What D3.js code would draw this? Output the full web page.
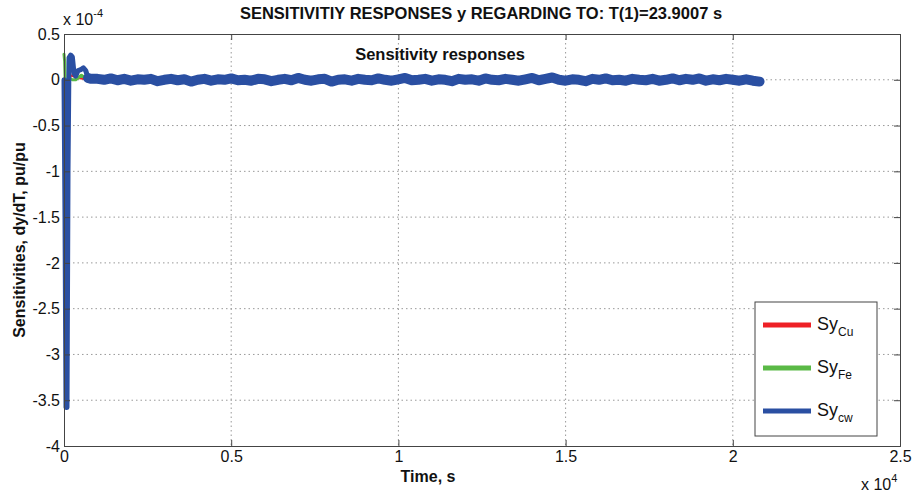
<!DOCTYPE html>
<html lang="en">
<head>
  <meta charset="UTF-8">
  <title>Sensitivity responses</title>
  <script src="https://d3js.org/d3.v7.min.js"></script>
  <style>
    body { margin: 0; background: white; font-family: "Liberation Sans", Arial, sans-serif; }
    svg { display: block; }
    .grid line { stroke: #999; stroke-dasharray: 1.5 3; }
    .tick text { font-size: 16px; fill: #111; }
  </style>
</head>
<body>
  <svg width="912" height="495"></svg>

  <script>
    // values in units of 1e-4 pu/pu, times in s
    const xTicks = [0, 5000, 10000, 15000, 20000, 25000];
    const xTickLabels = ["0", "0.5", "1", "1.5", "2", "2.5"];
    const yTicks = [0.5, 0, -0.5, -1, -1.5, -2, -2.5, -3, -3.5, -4];
    const yTickLabels = ["0.5", "0", "-0.5", "-1", "-1.5", "-2", "-2.5", "-3", "-3.5", "-4"];

    // start transient (blue, Sy_cw)
    const cwStartT = [0, 30, 60, 90, 120, 150, 200, 250, 300, 350, 420, 500, 580, 650, 720, 800];
    const cwStartV = [0, -1.5, -3.58, -3.58, -1.0, 0.24, 0.27, 0.25, 0.07, 0.04, 0.1, 0.11, 0.13, 0.1, 0.02, 0.01];
    // noisy part, one value every 200 s starting at 1000 s
    const cwNoise = [
      0.01, 0.0, 0.015, -0.005, 0.01, -0.01, 0.005, 0.0, 0.01, -0.015,
      0.0, 0.01, -0.005, 0.005, -0.02, 0.0, 0.01, -0.01, 0.005, 0.0,
      0.015, -0.005, 0.0, -0.01, 0.01, 0.005, -0.015, 0.0, 0.01, -0.005,
      0.02, 0.0, -0.01, 0.005, 0.01, -0.02, 0.0, 0.005, -0.01, 0.01,
      0.0, -0.005, 0.015, 0.0, -0.01, 0.005, 0.02, -0.005, 0.0, 0.01,
      -0.01, 0.005, 0.0, -0.015, 0.01, 0.0, 0.005, -0.01, 0.015, 0.0,
      -0.005, 0.01, 0.0, -0.01, 0.005, 0.02, -0.005, 0.01, 0.025, 0.0,
      -0.01, 0.005, 0.0, -0.015, 0.01, 0.0, 0.015, -0.005, 0.0, -0.01,
      0.01, 0.0, -0.005, 0.01, -0.01, 0.0, 0.015, -0.005, 0.01, 0.0,
      0.015, -0.01, 0.005, -0.005, 0.01, 0.0, -0.01, 0.005, -0.01, -0.02
    ];

    // green (Sy_Fe) and red (Sy_Cu), mostly hidden under blue
    const feT = [0, 20, 40, 60, 100, 150, 250, 350, 450, 520, 600, 700, 800, 5000, 10000, 15000, 20700];
    const feV = [0.28, 0.2, -0.1, -0.05, 0.0, 0.02, 0.0, 0.0, 0.03, 0.05, 0.03, 0.0, 0.0, -0.01, 0.0, -0.01, 0.0];
    const cuT = [0, 50, 100, 200, 400, 800, 5000, 10000, 15000, 20700];
    const cuV = [0, -0.3, -0.1, 0.05, 0.02, 0.0, 0.01, -0.01, 0.0, 0.0];

    const cwT = cwStartT.concat(cwNoise.map((d, i) => 1000 + i * 200));
    const cwV = cwStartV.concat(cwNoise);

    const series = [
      { name: "Cu", color: "#ee2026", t: cuT, v: cuV },
      { name: "Fe", color: "#5ab946", t: feT, v: feV },
      { name: "cw", color: "#2a4fa2", t: cwT, v: cwV }
    ];

    const svg = d3.select("svg");
    const margin = { left: 64, top: 34, right: 12, bottom: 49 };
    const W = 912 - margin.left - margin.right;
    const H = 495 - margin.top - margin.bottom;

    const x = d3.scaleLinear().domain([0, 25000]).range([0, W]);
    const y = d3.scaleLinear().domain([-4, 0.5]).range([H, 0]);

    const g = svg.append("g").attr("transform", `translate(${margin.left},${margin.top})`);

    // grid
    g.append("g").attr("class", "grid")
      .selectAll("line").data(xTicks.slice(1, -1)).join("line")
      .attr("x1", d => x(d)).attr("x2", d => x(d)).attr("y1", 0).attr("y2", H);
    g.append("g").attr("class", "grid")
      .selectAll("line").data(yTicks.slice(1, -1)).join("line")
      .attr("x1", 0).attr("x2", W).attr("y1", d => y(d)).attr("y2", d => y(d));

    // lines
    const line = d3.line().x(d => x(d[0])).y(d => y(d[1]));
    const pts = s => s.t.map((t, i) => [t, s.v[i]]);
    const draw = (data, color, w) => g.append("path").datum(data)
      .attr("fill", "none").attr("stroke", color).attr("stroke-width", w)
      .attr("stroke-linejoin", "round").attr("stroke-linecap", "round")
      .attr("d", line);

    draw(pts(series[0]), series[0].color, 2);
    draw(pts(series[1]), series[1].color, 3);
    const cw = pts(series[2]);
    const split = cwStartT.length - 2;
    draw(cw.slice(split), series[2].color, 10);      // steady band
    draw(cw.slice(0, split + 1), series[2].color, 5); // start transient

    // axes (matlab box with inward ticks)
    const axColor = "#444";
    const axB = g.append("g").attr("transform", `translate(0,${H})`)
      .call(d3.axisBottom(x).tickValues(xTicks).tickSize(-6).tickPadding(5)
        .tickFormat((d, i) => xTickLabels[i]));
    const axL = g.append("g")
      .call(d3.axisLeft(y).tickValues(yTicks).tickSize(-6).tickPadding(4)
        .tickFormat((d, i) => yTickLabels[i]));
    const axT = g.append("g")
      .call(d3.axisTop(x).tickValues(xTicks).tickSize(-6).tickFormat(""));
    const axR = g.append("g").attr("transform", `translate(${W},0)`)
      .call(d3.axisRight(y).tickValues(yTicks).tickSize(-6).tickFormat(""));
    [axB, axL, axT, axR].forEach(a => {
      a.select(".domain").attr("stroke", axColor);
      a.selectAll(".tick line").attr("stroke", axColor);
    });

    // exponent labels
    const e1 = svg.append("text").attr("x", 63).attr("y", 25)
      .attr("font-size", 16).attr("fill", "#111");
    e1.append("tspan").text("x 10");
    e1.append("tspan").attr("dy", -8).attr("font-size", 11).text("-4");
    const e2 = svg.append("text").attr("x", 861).attr("y", 490)
      .attr("font-size", 16).attr("fill", "#111");
    e2.append("tspan").text("x 10");
    e2.append("tspan").attr("dy", -8).attr("font-size", 11).text("4");

    // titles
    svg.append("text").attr("x", 481).attr("y", 19).attr("text-anchor", "middle")
      .attr("font-size", 16.5).attr("font-weight", "bold").attr("fill", "#111")
      .text("SENSITIVITIY RESPONSES y REGARDING TO: T(1)=23.9007 s");
    svg.append("text").attr("x", 440).attr("y", 60).attr("text-anchor", "middle")
      .attr("font-size", 16.5).attr("font-weight", "bold").attr("fill", "#111")
      .text("Sensitivity responses");
    svg.append("text").attr("x", 428).attr("y", 482).attr("text-anchor", "middle")
      .attr("font-size", 16).attr("font-weight", "bold").attr("fill", "#111")
      .text("Time, s");
    svg.append("text").attr("transform", "translate(25,240) rotate(-90)")
      .attr("text-anchor", "middle")
      .attr("font-size", 16).attr("font-weight", "bold").attr("fill", "#111")
      .text("Sensitivities, dy/dT, pu/pu");

    // legend
    const lg = svg.append("g").attr("transform", "translate(755,302)");
    lg.append("rect").attr("width", 122).attr("height", 134)
      .attr("fill", "white").attr("stroke", axColor);
    series.forEach((s, i) => {
      const yy = 23 + i * 43;
      lg.append("line").attr("x1", 8).attr("x2", 56).attr("y1", yy).attr("y2", yy)
        .attr("stroke", s.color).attr("stroke-width", 5);
      const t = lg.append("text").attr("x", 62).attr("y", yy + 5)
        .attr("font-size", 18).attr("fill", "#111");
      t.append("tspan").text("Sy");
      t.append("tspan").attr("dy", 6).attr("font-size", 12).text(s.name);
    });
  </script>
</body>
</html>
